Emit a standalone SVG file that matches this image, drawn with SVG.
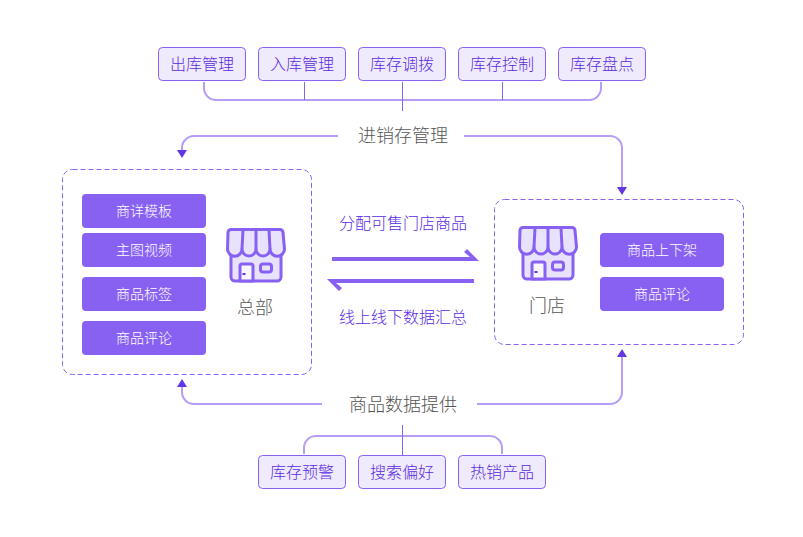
<svg xmlns="http://www.w3.org/2000/svg" width="803" height="537" viewBox="0 0 803 537">
<style>
text{font-family:"Noto Sans CJK SC","Noto Sans",sans-serif;text-anchor:middle;font-weight:300}
.tag rect{fill:#efebfd;stroke:#8861f2;stroke-width:1}
.tag text{font-size:16px;fill:#5a2be0}
.btn rect{fill:#8861f2}
.btn text{font-size:14px;fill:#fff}
.box{fill:#fff;stroke:#8861f2;stroke-width:1;stroke-dasharray:5 3}
.bus{fill:none;stroke:#b69df5;stroke-width:2}
.thin{fill:none;stroke:#8861f2;stroke-width:1}
.title{font-size:18px;fill:#555}
.mid{font-size:16px;fill:#5a2be0}
.head{fill:#6236e4}
.ic{fill:#e9e2fd;stroke:#8861f2;stroke-width:3;stroke-linejoin:round}
</style>
<defs>
<g id="store">
<path class="ic" d="M5 22V49a4 4 0 0 0 4 4H51a4 4 0 0 0 4-4V22Z"/>
<path class="ic" style="fill:#f7f5fe" d="M14 53V38a2 2 0 0 1 2-2H25a2 2 0 0 1 2 2V53Z"/>
<rect class="ic" x="34.500" y="36" width="11" height="8" rx="2.500"/>
<rect x="16.500" y="45" width="3" height="2" fill="#6236e4"/>
<path class="ic" d="M5 1.500H54a3 3 0 0 1 3 3L58.500 21a7.200 7.200 0 0 1-14.500 0 7 7 0 0 1-14 0 7 7 0 0 1-14 0 7.200 7.200 0 0 1-14.500 0L2 4.500a3 3 0 0 1 3-3Z"/>
<path class="ic" style="fill:none" d="M16 21 17 2M30 21V2M44 21 43 2"/>
</g>
</defs>
<g id="connectors">
<path class="bus" d="M204 82V88a12 12 0 0 0 12 12H589a12 12 0 0 0 12-12V82"/>
<path class="thin" d="M304.500 82V100M402.500 82V111M502.500 82V100"/>
<path class="bus" d="M338 136H194a12 12 0 0 0-12 12V152"/>
<path class="head" d="M177 150H187L182 158Z"/>
<path class="bus" d="M464 136H610a12 12 0 0 1 12 12V188"/>
<path class="head" d="M617 187H627L622 195Z"/>
<path class="bus" d="M322 404H194a12 12 0 0 1-12-12V386"/>
<path class="head" d="M177 387H187L182 379Z"/>
<path class="bus" d="M477 404H610a12 12 0 0 0 12-12V356"/>
<path class="head" d="M617 357H627L622 349Z"/>
<path class="bus" d="M304 454V448a12 12 0 0 1 12-12H490a12 12 0 0 1 12 12V454"/>
<path class="thin" d="M402.500 425V455"/>
<path id="arrow-right" fill="#8861f2" d="M332 257H470L464 252 467 249 479 261H332Z"/>
<path id="arrow-left" fill="#8861f2" d="M474 283H336L342 288 339 291 327 279H474Z"/>
</g>
<g id="top-tags" class="tag">
<g id="t1"><rect x="158.500" y="47.500" width="87" height="33" rx="4"/><text x="202" y="70">出库管理</text></g>
<g id="t2"><rect x="258.500" y="47.500" width="87" height="33" rx="4"/><text x="302" y="70">入库管理</text></g>
<g id="t3"><rect x="358.500" y="47.500" width="87" height="33" rx="4"/><text x="402" y="70">库存调拨</text></g>
<g id="t4"><rect x="458.500" y="47.500" width="87" height="33" rx="4"/><text x="502" y="70">库存控制</text></g>
<g id="t5"><rect x="558.500" y="47.500" width="87" height="33" rx="4"/><text x="602" y="70">库存盘点</text></g>
</g>
<g id="label-top"><text class="title" x="403" y="142">进销存管理</text></g>
<g id="hq">
<rect class="box" x="62.500" y="169.500" width="249" height="205" rx="10"/>
<g class="btn">
<rect x="82" y="194" width="124" height="34" rx="4"/><text x="144" y="216">商详模板</text>
<rect x="82" y="233" width="124" height="34" rx="4"/><text x="144" y="255">主图视频</text>
<rect x="82" y="277" width="124" height="34" rx="4"/><text x="144" y="299">商品标签</text>
<rect x="82" y="321" width="124" height="34" rx="4"/><text x="144" y="343">商品评论</text>
</g>
<use href="#store" x="226" y="228"/>
<text class="title" x="255" y="314">总部</text>
</g>
<g id="mid-labels">
<text class="mid" x="403" y="229">分配可售门店商品</text>
<text class="mid" x="403" y="323">线上线下数据汇总</text>
</g>
<g id="shop">
<rect class="box" x="494.500" y="199.500" width="249" height="145" rx="10"/>
<use href="#store" x="518" y="226"/>
<text class="title" x="547" y="312">门店</text>
<g class="btn">
<rect x="600" y="233" width="124" height="34" rx="4"/><text x="662" y="255">商品上下架</text>
<rect x="600" y="277" width="124" height="34" rx="4"/><text x="662" y="299">商品评论</text>
</g>
</g>
<g id="label-bottom"><text class="title" x="403" y="411">商品数据提供</text></g>
<g id="bottom-tags" class="tag">
<g id="b1"><rect x="258.500" y="455.500" width="87" height="33" rx="4"/><text x="302" y="478">库存预警</text></g>
<g id="b2"><rect x="358.500" y="455.500" width="87" height="33" rx="4"/><text x="402" y="478">搜索偏好</text></g>
<g id="b3"><rect x="458.500" y="455.500" width="87" height="33" rx="4"/><text x="502" y="478">热销产品</text></g>
</g>
</svg>
